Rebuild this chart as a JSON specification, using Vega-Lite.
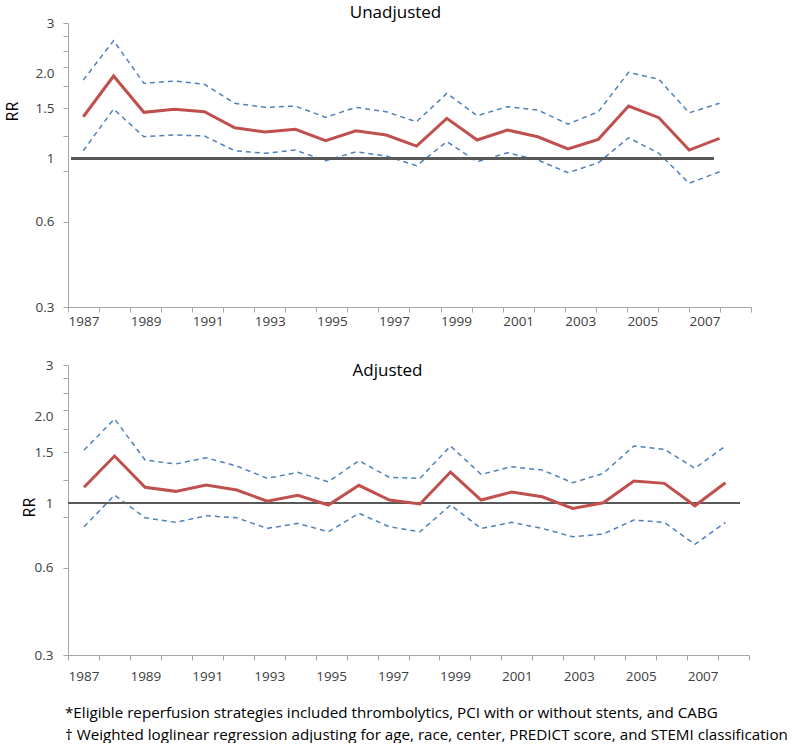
{
  "$schema": "https://vega.github.io/schema/vega-lite/v6.json",
  "background": "white",
  "padding": {"left": 4, "top": 4, "right": 5, "bottom": 0},
  "config": {"font": "Open Sans", "view": {"stroke": null}},
  "bounds": "flush",
  "spacing": 58,
  "title": {
    "text": ["*Eligible reperfusion strategies included thrombolytics, PCI with or without stents, and CABG", "† Weighted loglinear regression adjusting for age, race, center, PREDICT score, and STEMI classification"],
    "orient": "bottom", "anchor": "start", "frame": "bounds", "dx": 61, "offset": 23,
    "fontSize": 15.2, "fontWeight": "normal", "color": "#000000", "lineHeight": 22
  },
  "datasets": {
    "unadj": [
      {"year": 1987, "rr": 1.403, "lo": 1.065, "hi": 1.889},
      {"year": 1988, "rr": 1.952, "lo": 1.493, "hi": 2.599},
      {"year": 1989, "rr": 1.454, "lo": 1.193, "hi": 1.840},
      {"year": 1990, "rr": 1.490, "lo": 1.210, "hi": 1.874},
      {"year": 1991, "rr": 1.461, "lo": 1.200, "hi": 1.825},
      {"year": 1992, "rr": 1.283, "lo": 1.065, "hi": 1.564},
      {"year": 1993, "rr": 1.239, "lo": 1.043, "hi": 1.514},
      {"year": 1994, "rr": 1.267, "lo": 1.071, "hi": 1.530},
      {"year": 1995, "rr": 1.155, "lo": 0.982, "hi": 1.396},
      {"year": 1996, "rr": 1.252, "lo": 1.056, "hi": 1.514},
      {"year": 1997, "rr": 1.210, "lo": 1.020, "hi": 1.461},
      {"year": 1998, "rr": 1.106, "lo": 0.943, "hi": 1.347},
      {"year": 1999, "rr": 1.385, "lo": 1.146, "hi": 1.696},
      {"year": 2000, "rr": 1.162, "lo": 0.974, "hi": 1.415},
      {"year": 2001, "rr": 1.260, "lo": 1.048, "hi": 1.522},
      {"year": 2002, "rr": 1.193, "lo": 0.988, "hi": 1.481},
      {"year": 2003, "rr": 1.080, "lo": 0.891, "hi": 1.322},
      {"year": 2004, "rr": 1.168, "lo": 0.966, "hi": 1.461},
      {"year": 2005, "rr": 1.530, "lo": 1.183, "hi": 2.011},
      {"year": 2006, "rr": 1.392, "lo": 1.043, "hi": 1.900},
      {"year": 2007, "rr": 1.071, "lo": 0.818, "hi": 1.449},
      {"year": 2008, "rr": 1.178, "lo": 0.898, "hi": 1.564}
    ],
    "adj": [
      {"year": 1987, "rr": 1.136, "lo": 0.830, "hi": 1.527},
      {"year": 1988, "rr": 1.456, "lo": 1.068, "hi": 1.954},
      {"year": 1989, "rr": 1.136, "lo": 0.892, "hi": 1.411},
      {"year": 1990, "rr": 1.100, "lo": 0.860, "hi": 1.367},
      {"year": 1991, "rr": 1.157, "lo": 0.906, "hi": 1.437},
      {"year": 1992, "rr": 1.112, "lo": 0.892, "hi": 1.345},
      {"year": 1993, "rr": 1.018, "lo": 0.820, "hi": 1.220},
      {"year": 1994, "rr": 1.066, "lo": 0.853, "hi": 1.279},
      {"year": 1995, "rr": 0.987, "lo": 0.798, "hi": 1.187},
      {"year": 1996, "rr": 1.154, "lo": 0.924, "hi": 1.403},
      {"year": 1997, "rr": 1.027, "lo": 0.830, "hi": 1.229},
      {"year": 1998, "rr": 0.995, "lo": 0.798, "hi": 1.220},
      {"year": 1999, "rr": 1.282, "lo": 0.987, "hi": 1.577},
      {"year": 2000, "rr": 1.027, "lo": 0.820, "hi": 1.259},
      {"year": 2001, "rr": 1.094, "lo": 0.860, "hi": 1.337},
      {"year": 2002, "rr": 1.054, "lo": 0.820, "hi": 1.303},
      {"year": 2003, "rr": 0.961, "lo": 0.767, "hi": 1.178},
      {"year": 2004, "rr": 1.005, "lo": 0.784, "hi": 1.269},
      {"year": 2005, "rr": 1.194, "lo": 0.876, "hi": 1.577},
      {"year": 2006, "rr": 1.172, "lo": 0.860, "hi": 1.536},
      {"year": 2007, "rr": 0.981, "lo": 0.722, "hi": 1.321},
      {"year": 2008, "rr": 1.178, "lo": 0.860, "hi": 1.577}
    ]
  },
  "vconcat": [
    {
      "width": 683, "height": 284,
      "title": {"text": "Unadjusted", "fontSize": 17, "fontWeight": "normal", "color": "#000000", "offset": -6, "dx": -14},
      "data": {"name": "unadj"},
      "encoding": {
        "x": {"field": "year", "type": "quantitative", "scale": {"domain": [1986.495, 2009.04], "nice": false, "zero": false},
          "axis": {"title": null, "grid": false,
            "values": [1986.495,1987.52,1988.545,1989.569,1990.594,1991.619,1992.644,1993.668,1994.693,1995.718,1996.743,1997.767,1998.792,1999.817,2000.842,2001.866,2002.891,2003.916,2004.941,2005.965,2006.99,2008.015,2009.04,1987.007,1989.057,1991.106,1993.156,1995.205,1997.255,1999.304,2001.354,2003.403,2005.453,2007.502],
            "labelExpr": "abs((datum.value-1986.495)/1.02475-round((datum.value-1986.495)/1.02475))<0.1 ? '' : format(1987+floor((datum.value-1986.495)/1.02475),'d')",
            "tickOpacity": {"condition": {"test": "abs((datum.value-1986.495)/1.02475-round((datum.value-1986.495)/1.02475))<0.1", "value": 1}, "value": 0},
            "tickSize": 5, "tickColor": "#A6A6A6", "domainColor": "#A6A6A6", "labelFontSize": 13.5, "labelColor": "#404040", "labelPadding": 2, "labelOverlap": false, "labelFlush": false, "labelBound": false}}
      },
      "layer": [
        {
          "mark": {"type": "line", "color": "#4F81BD", "strokeWidth": 1.5, "strokeDash": [5, 4]},
          "encoding": {
            "y": {"field": "hi", "type": "quantitative", "scale": {"type": "log", "domain": [0.3, 3], "nice": false, "zero": false},
              "axis": {"title": "RR", "titleFontSize": 16, "titleFontWeight": "normal", "titleColor": "#000000", "titleX": -48, "titleY": 88, "grid": false,
                "values": [0.3, 0.6, 0.9, 1, 1.2, 1.5, 1.8, 2, 2.1, 2.4, 2.7, 3],
                "labelExpr": "datum.value==3 ? '3' : datum.value==2 ? '2.0' : datum.value==1.5 ? '1.5' : datum.value==1 ? '1' : datum.value==0.6 ? '0.6' : datum.value==0.3 ? '0.3' : ''",
                "tickOpacity": {"condition": {"test": "datum.value==1 || datum.value==2", "value": 0}, "value": 1},
                "tickSize": 5, "tickColor": "#A6A6A6", "domainColor": "#A6A6A6", "labelFontSize": 13.5, "labelColor": "#404040", "labelPadding": 9, "labelOverlap": false, "labelBound": false}}
          }
        },
        {
          "mark": {"type": "line", "color": "#4F81BD", "strokeWidth": 1.5, "strokeDash": [5, 4]},
          "encoding": {"y": {"field": "lo", "type": "quantitative"}}
        },
        {
          "mark": {"type": "rule", "color": "#595959", "strokeWidth": 1.5},
          "encoding": {
            "x": {"datum": 1986.6, "type": "quantitative"},
            "x2": {"datum": 2007.8},
            "y": {"datum": 1, "type": "quantitative"}
          }
        },
        {
          "mark": {"type": "line", "color": "#C0504D", "strokeWidth": 3},
          "encoding": {"y": {"field": "rr", "type": "quantitative"}}
        }
      ]
    },
    {
      "width": 681, "height": 290,
      "title": {"text": "Adjusted", "fontSize": 17, "fontWeight": "normal", "color": "#000000", "offset": -22, "dx": -21},
      "data": {"name": "adj"},
      "encoding": {
        "x": {"field": "year", "type": "quantitative", "scale": {"domain": [1986.476, 2008.771], "nice": false, "zero": false},
          "axis": {"title": null, "grid": false,
            "values": [1986.476,1987.489,1988.503,1989.516,1990.53,1991.543,1992.557,1993.57,1994.583,1995.597,1996.61,1997.624,1998.637,1999.651,2000.664,2001.677,2002.691,2003.704,2004.718,2005.731,2006.745,2007.758,2008.771,1986.983,1989.009,1991.036,1993.063,1995.09,1997.117,1999.144,2001.171,2003.198,2005.225,2007.252],
            "labelExpr": "abs((datum.value-1986.476)/1.01343-round((datum.value-1986.476)/1.01343))<0.1 ? '' : format(1987+floor((datum.value-1986.476)/1.01343),'d')",
            "tickOpacity": {"condition": {"test": "abs((datum.value-1986.476)/1.01343-round((datum.value-1986.476)/1.01343))<0.1", "value": 1}, "value": 0},
            "tickSize": 5, "tickColor": "#A6A6A6", "domainColor": "#A6A6A6", "labelFontSize": 13.5, "labelColor": "#404040", "labelPadding": 9, "labelOverlap": false, "labelFlush": false, "labelBound": false}}
      },
      "layer": [
        {
          "mark": {"type": "line", "color": "#4F81BD", "strokeWidth": 1.5, "strokeDash": [5, 4]},
          "encoding": {
            "y": {"field": "hi", "type": "quantitative", "scale": {"type": "log", "domain": [0.3, 3], "nice": false, "zero": false},
              "axis": {"title": "RR", "titleFontSize": 16, "titleFontWeight": "normal", "titleColor": "#000000", "titleX": -31, "titleY": 142, "grid": false,
                "values": [0.3, 0.6, 0.9, 1, 1.2, 1.5, 1.8, 2, 2.1, 2.4, 2.7, 3],
                "labelExpr": "datum.value==3 ? '3' : datum.value==2 ? '2.0' : datum.value==1.5 ? '1.5' : datum.value==1 ? '1' : datum.value==0.6 ? '0.6' : datum.value==0.3 ? '0.3' : ''",
                "tickOpacity": {"condition": {"test": "datum.value==1 || datum.value==2", "value": 0}, "value": 1},
                "tickSize": 5, "tickColor": "#A6A6A6", "domainColor": "#A6A6A6", "labelFontSize": 13.5, "labelColor": "#404040", "labelPadding": 10, "labelOverlap": false, "labelBound": false}}
          }
        },
        {
          "mark": {"type": "line", "color": "#4F81BD", "strokeWidth": 1.5, "strokeDash": [5, 4]},
          "encoding": {"y": {"field": "lo", "type": "quantitative"}}
        },
        {
          "mark": {"type": "rule", "color": "#595959", "strokeWidth": 1.5},
          "encoding": {
            "x": {"datum": 1986.476, "type": "quantitative"},
            "x2": {"datum": 2008.46},
            "y": {"datum": 1, "type": "quantitative"}
          }
        },
        {
          "mark": {"type": "line", "color": "#C0504D", "strokeWidth": 3},
          "encoding": {"y": {"field": "rr", "type": "quantitative"}}
        }
      ]
    }
  ]
}
